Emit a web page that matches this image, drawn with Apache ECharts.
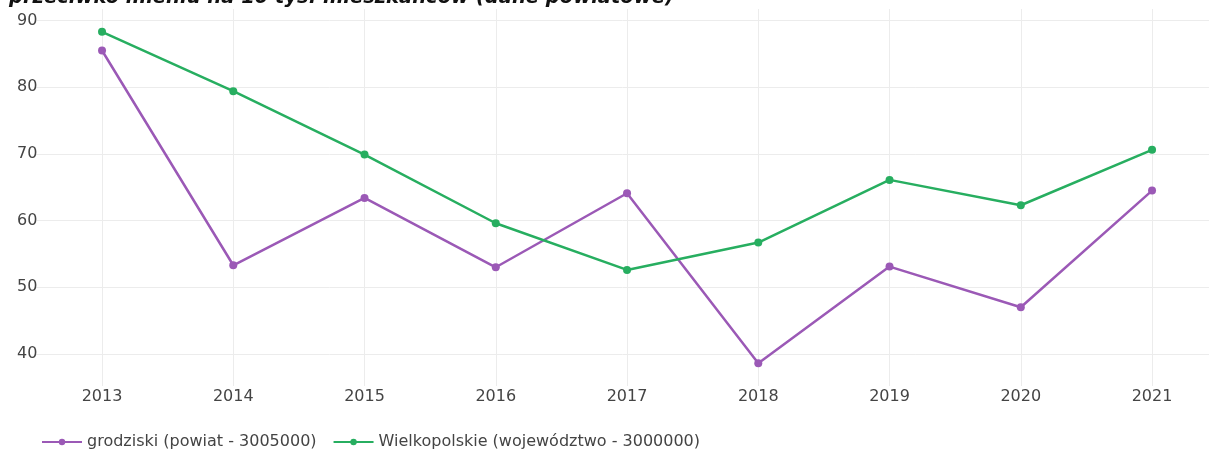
<!DOCTYPE html>
<html>
<head>
<meta charset="utf-8">
<script src="https://cdn.jsdelivr.net/npm/echarts@6/dist/echarts.min.js"></script>
<style>html,body{margin:0;padding:0;background:#fff;}#c{width:1209px;height:450px;}</style>
</head>
<body>
<div id="c"></div>
<script>
const years = [2013, 2014, 2015, 2016, 2017, 2018, 2019, 2020, 2021];
const grodziski = [85.5, 53.3, 63.4, 53.0, 64.1, 38.6, 53.1, 47.0, 64.5];
const wielkopolskie = [88.3, 79.4, 69.9, 59.6, 52.6, 56.7, 66.1, 62.3, 70.6];
const seriesNames = ['grodziski (powiat - 3005000)', 'Wielkopolskie (województwo - 3000000)'];
const titleText = 'przeciwko mieniu na 10 tys. mieszkańców (dane powiatowe)';

const font = 'DejaVu Sans';
const chart = echarts.init(document.getElementById('c'));
chart.setOption({
  animation: false,
  title: {
    text: titleText, left: 4, top: -17,
    textStyle: { fontFamily: font, fontSize: 19.5, fontWeight: 'bold', fontStyle: 'italic', color: '#111' }
  },
  legend: {
    bottom: -5, left: 36, itemGap: 16, itemWidth: 40, itemHeight: 8,
    textStyle: { fontFamily: font, fontSize: 16, color: '#444' },
    data: seriesNames
  },
  grid: { left: 36.4, top: 9, right: 0, height: 377, containLabel: false },
  xAxis: {
    type: 'value', min: 2012.5, max: 2021.434, splitNumber: 9, minInterval: 1, maxInterval: 1,
    axisLine: { show: false }, axisTick: { show: false },
    axisLabel: { showMinLabel: false, showMaxLabel: false, fontFamily: font, fontSize: 16, color: '#444', margin: 3,
      formatter: v => String(v) },
    splitLine: { show: true, showMinLine: false, showMaxLine: false, lineStyle: { color: '#ececec', width: 1 } }
  },
  yAxis: {
    type: 'value', min: 35.2, max: 91.72, minInterval: 10, maxInterval: 10, splitNumber: 6,
    axisLine: { show: false }, axisTick: { show: false },
    axisLabel: { showMinLabel: false, showMaxLabel: false, fontFamily: font, fontSize: 16, color: '#444', margin: -1 },
    splitLine: { show: true, showMinLine: false, showMaxLine: false, lineStyle: { color: '#ececec', width: 1 } }
  },
  series: [
    {
      name: seriesNames[0], type: 'line', data: years.map((y, i) => [y, grodziski[i]]),
      symbol: 'circle', symbolSize: 8, lineStyle: { width: 2.5, color: '#9b59b6' },
      itemStyle: { color: '#9b59b6' }
    },
    {
      name: seriesNames[1], type: 'line', data: years.map((y, i) => [y, wielkopolskie[i]]),
      symbol: 'circle', symbolSize: 8, lineStyle: { width: 2.5, color: '#27ae60' },
      itemStyle: { color: '#27ae60' }
    }
  ]
});
</script>
</body>
</html>
